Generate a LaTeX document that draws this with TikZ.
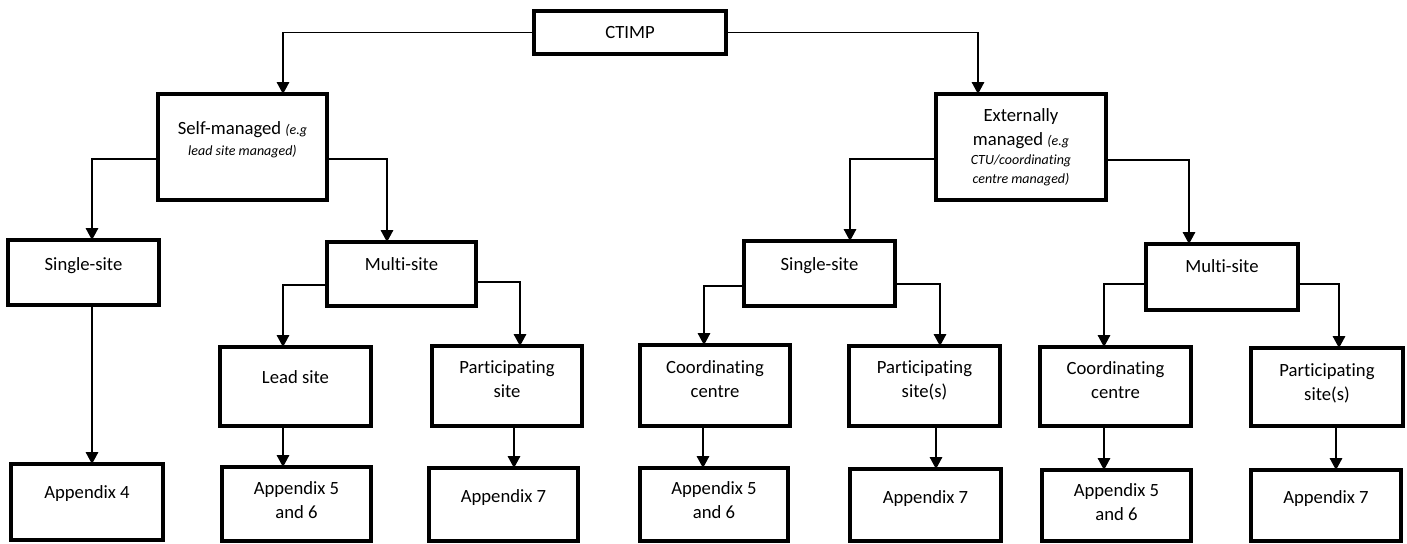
\documentclass[tikz,border=0pt]{standalone}
\usepackage{fontspec}
\setmainfont{Carlito}[Ligatures=NoCommon]
\usetikzlibrary{arrows.meta,calc}
\newdimen\px \px=0.75pt
% #1 width (px), #2 height (px), #3 first baseline below top (px), #4 text
\newcommand\bx[4]{\parbox[t][#2\px][t]{#1\px}{\centering\vspace*{\dimexpr#3\px-12pt\relax}\rule{0pt}{12pt}#4\par}}
\newcommand\smit[1]{{\fontsize{10.5}{14}\selectfont\itshape #1}}
\tikzset{
  box/.style={draw, line width=2.4pt, inner sep=0pt, outer sep=0pt, font=\fontsize{14}{18}\selectfont},
  conn/.style={draw=black, line width=0.8pt, -{Triangle[width=9.5pt,length=9pt]}}
}
\begin{document}
\begin{tikzpicture}[x=0.75pt,y=-0.75pt]
\useasboundingbox (0,0) rectangle (1407,543);
% level 0
\node[box] (ctimp) at (630,32.5) {\bx{192}{43}{27}{CTIMP}};
% level 1
\node[box] (self) at (242.5,147) {\bx{169}{106}{40}{Self-managed \smit{(e.g}\par{\fontsize{10.5}{15.75}\selectfont\itshape lead site managed)\par}}};
\node[box] (ext) at (1021,147) {\bx{170}{106}{27}{Externally\\managed \smit{(e.g}\par{\fontsize{10.5}{14.6}\selectfont\itshape CTU/coordinating\\centre managed)\par}}};
% level 2
\node[box] (ssL) at (83.5,272.5) {\bx{151}{65}{30}{Single-site}};
\node[box] (msL) at (401.5,274) {\bx{149}{64}{28}{Multi-site}};
\node[box] (ssR) at (819.5,273.5) {\bx{151}{65}{29}{Single-site}};
\node[box] (msR) at (1222,277) {\bx{152}{66}{28}{Multi-site}};
% level 3
\node[box] (lead) at (295.5,386.5) {\bx{151}{79}{36}{Lead site}};
\node[box] (partL) at (507,386) {\bx{150}{80}{27}{Participating\\site}};
\node[box] (coordSS) at (715,385.5) {\bx{150}{81}{28}{Coordinating\\centre}};
\node[box] (partSS) at (924.5,386) {\bx{151}{80}{27}{Participating\\site(s)}};
\node[box] (coordMS) at (1115.5,386.5) {\bx{151}{79}{27}{Coordinating\\centre}};
\node[box] (partMS) at (1327,387) {\bx{152}{78}{28}{Participating\\site(s)}};
% level 4
\node[box] (app4) at (87,502) {\bx{152}{76}{34}{Appendix 4}};
\node[box] (app56L) at (296.5,504) {\bx{149}{74}{27}{Appendix 5\\and 6}};
\node[box] (app7L) at (503.5,504.5) {\bx{149}{73}{34}{Appendix 7}};
\node[box] (app56SS) at (714,504.5) {\bx{148}{73}{26}{Appendix 5\\and 6}};
\node[box] (app7SS) at (925.5,505) {\bx{151}{72}{34}{Appendix 7}};
\node[box] (app56MS) at (1116.5,505.5) {\bx{149}{71}{26}{Appendix 5\\and 6}};
\node[box] (app7MS) at (1326,505.5) {\bx{150}{71}{33}{Appendix 7}};
% connectors
\draw[conn] (ctimp.west) -| ($(self.north)+(40.5,0)$);
\draw[conn] (ctimp.east) -| ($(ext.north)+(-43,0)$);
\draw[conn] ($(self.west)+(0,12)$) -| ($(ssL.north)+(8.5,0)$);
\draw[conn] ($(self.east)+(0,12)$) -| ($(msL.north)+(-14.5,0)$);
\draw[conn] ($(ext.west)+(0,12)$) -| ($(ssR.north)+(30.5,0)$);
\draw[conn] ($(ext.east)+(0,13)$) -| ($(msR.north)+(-33,0)$);
\draw[conn] ($(msL.west)+(0,11)$) -| ($(lead.north)+(-12.5,0)$);
\draw[conn] ($(msL.east)+(0,8)$) -| ($(partL.north)+(13,0)$);
\draw[conn] ($(ssR.west)+(0,12.5)$) -| ($(coordSS.north)+(-11,0)$);
\draw[conn] ($(ssR.east)+(0,10.5)$) -| ($(partSS.north)+(15.5,0)$);
\draw[conn] ($(msR.west)+(0,7)$) -| ($(coordMS.north)+(-11.5,0)$);
\draw[conn] ($(msR.east)+(0,7)$) -| ($(partMS.north)+(12,0)$);
\draw[conn] ($(ssL.south)+(8.5,0)$) coordinate (v1) -- (v1 |- app4.north);
\draw[conn] ($(lead.south)+(-12.5,0)$) coordinate (v2) -- (v2 |- app56L.north);
\draw[conn] ($(partL.south)+(7,0)$) coordinate (v3) -- (v3 |- app7L.north);
\draw[conn] ($(coordSS.south)+(-12,0)$) coordinate (v4) -- (v4 |- app56SS.north);
\draw[conn] ($(partSS.south)+(11.5,0)$) coordinate (v5) -- (v5 |- app7SS.north);
\draw[conn] ($(coordMS.south)+(-11.5,0)$) coordinate (v6) -- (v6 |- app56MS.north);
\draw[conn] ($(partMS.south)+(9,0)$) coordinate (v7) -- (v7 |- app7MS.north);
\end{tikzpicture}
\end{document}
